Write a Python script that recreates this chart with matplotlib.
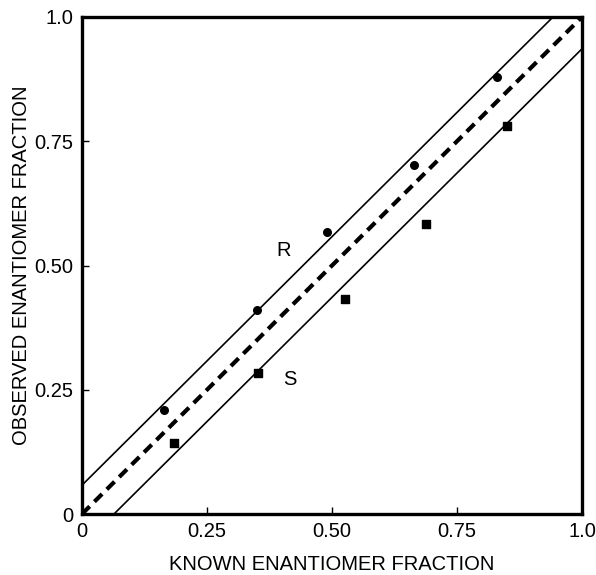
import matplotlib

matplotlib.use("Agg")
import matplotlib.pyplot as plt
import numpy as np

# known vs observed fractions
r_known = [0.164, 0.349, 0.489, 0.664, 0.829]
r_observed = [0.209, 0.410, 0.567, 0.703, 0.880]
s_known = [0.183, 0.351, 0.526, 0.688, 0.849]
s_observed = [0.143, 0.283, 0.433, 0.584, 0.780]

# offsets of the two solid bounding lines from the y = x line
band_offsets = [0.058, -0.064]

ticks = [0, 0.25, 0.50, 0.75, 1.0]
tick_labels = ["0", "0.25", "0.50", "0.75", "1.0"]

plt.rcParams["font.family"] = ["Liberation Sans", "DejaVu Sans"]

fig = plt.figure(figsize=(5.96, 5.75), dpi=100)
ax = fig.add_axes([82 / 596, 61 / 575, 500 / 596, 497 / 575])

xs = np.array([0.0, 1.0])
ax.plot(xs, xs, color="black", lw=3, ls=(0, (2.6, 1.6)), solid_capstyle="butt")
for off in band_offsets:
    ax.plot(xs, xs + off, color="black", lw=1.2)

ax.scatter(r_known, r_observed, marker="o", s=30, color="black", zorder=5)
ax.scatter(s_known, s_observed, marker="s", s=30, color="black", zorder=5)

ax.text(0.404, 0.531, "R", fontsize=14.5, ha="center", va="center")
ax.text(0.416, 0.270, "S", fontsize=14.5, ha="center", va="center")

ax.set_xlim(0, 1)
ax.set_ylim(0, 1)
ax.set_xticks(ticks)
ax.set_xticklabels(tick_labels)
ax.set_yticks(ticks)
ax.set_yticklabels(tick_labels)
ax.tick_params(direction="in", length=5, width=1, labelsize=14.5, pad=6)
for spine in ax.spines.values():
    spine.set_linewidth(2.4)

ax.set_xlabel("KNOWN ENANTIOMER FRACTION", fontsize=14.5, va="center")
ax.xaxis.set_label_coords(0.5, -0.1026)
ax.set_ylabel("OBSERVED ENANTIOMER FRACTION", fontsize=14.5, va="center")
ax.yaxis.set_label_coords(-0.12, 0.5)

fig.savefig("out.png", dpi=100)
